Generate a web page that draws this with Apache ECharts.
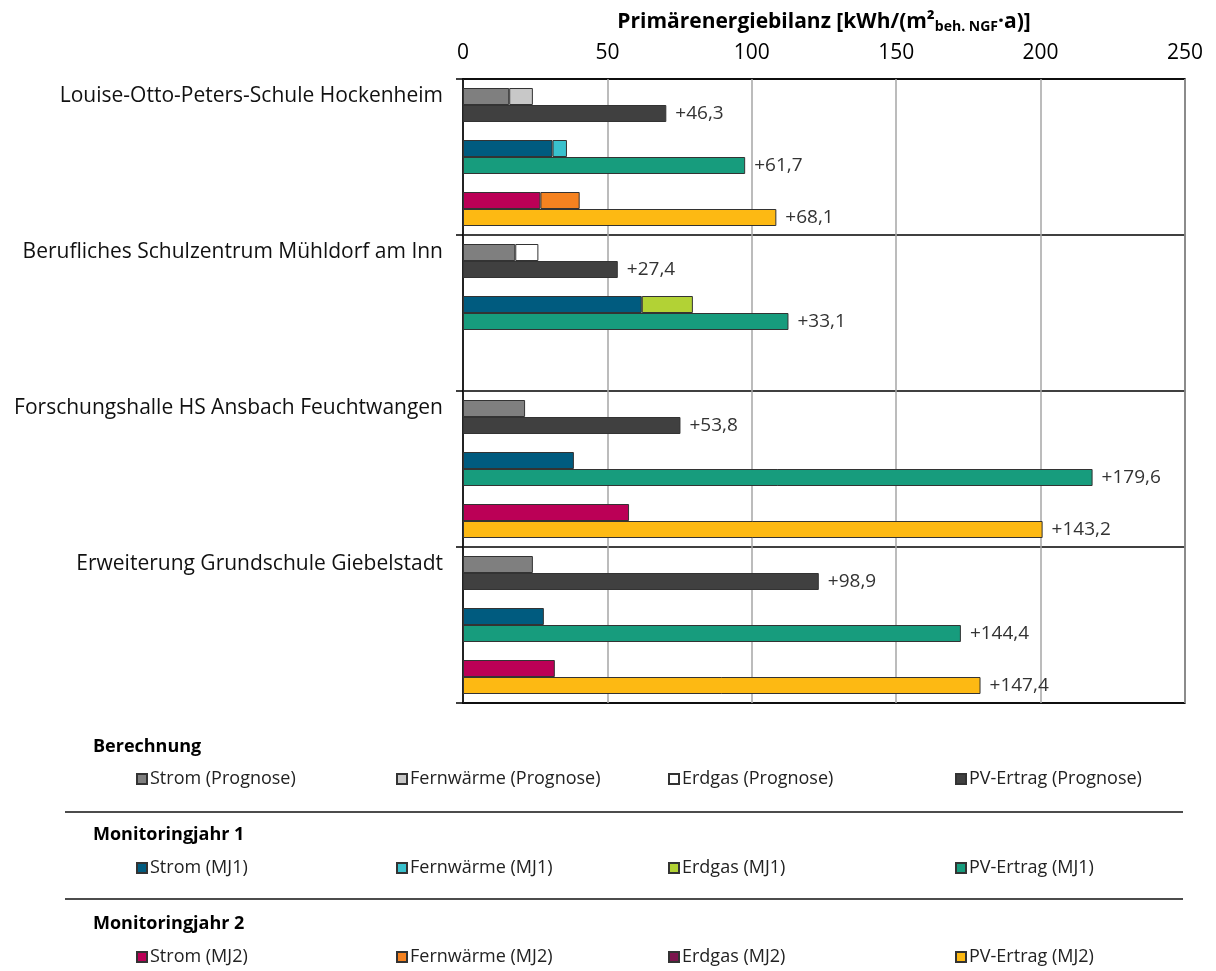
<!DOCTYPE html>
<html>
<head>
<meta charset="utf-8">
<script src="https://cdn.jsdelivr.net/npm/echarts@6/dist/echarts.min.js"></script>
<style>
html,body{margin:0;padding:0;background:#fff;}
#chart{width:1216px;height:971px;}
</style>
</head>
<body>
<div id="chart"></div>
<script>
// ---- data ----
const groups = [
  'Louise-Otto-Peters-Schule Hockenheim',
  'Berufliches Schulzentrum Mühldorf am Inn',
  'Forschungshalle HS Ansbach Feuchtwangen',
  'Erweiterung Grundschule Giebelstadt'
];
const xTicks = [0, 50, 100, 150, 200, 250];

// Berechnung (Prognose)
const stromPrognose      = [16.0, 18.1, 21.5, 24.2];
const fernwaermePrognose = [8.2, null, null, null];
const erdgasPrognose     = [null, 8.0, null, null];
const pvPrognose         = [70.4, 53.6, 75.3, 123.2];
const bilanzPrognose     = ['+46,3', '+27,4', '+53,8', '+98,9'];

// Monitoringjahr 1
const stromMJ1      = [31.0, 61.9, 38.4, 28.0];
const fernwaermeMJ1 = [5.0, null, null, null];
const erdgasMJ1     = [null, 17.7, null, null];
const pvMJ1         = [97.7, 112.7, 218.0, 172.4];
const bilanzMJ1     = ['+61,7', '+33,1', '+179,6', '+144,4'];

// Monitoringjahr 2
const stromMJ2      = [26.8, null, 57.5, 31.8];
const fernwaermeMJ2 = [13.6, null, null, null];
const erdgasMJ2     = [null, null, null, null];
const pvMJ2         = [108.5, null, 200.7, 179.2];
const bilanzMJ2     = ['+68,1', null, '+143,2', '+147,4'];

// ---- build ----
const FONT = '"Open Sans", "Noto Sans", sans-serif';
const nYears = 3;
const rows = [];
groups.forEach((g, gi) => { for (let y = 0; y < nYears; y++) rows.push(gi + '-' + y); });

function rowData(vals, yearIdx) {
  const out = new Array(rows.length).fill(null);
  vals.forEach((v, gi) => { out[gi * nYears + yearIdx] = v; });
  return out;
}

const yearDefs = [
  {
    key: 'Prognose', header: 'Berechnung',
    items: [
      {name: 'Strom (Prognose)', vals: stromPrognose, color: '#7f7f7f', stack: 'cons'},
      {name: 'Fernwärme (Prognose)', vals: fernwaermePrognose, color: '#c8c8c8', stack: 'cons'},
      {name: 'Erdgas (Prognose)', vals: erdgasPrognose, color: '#ffffff', stack: 'cons'},
      {name: 'PV-Ertrag (Prognose)', vals: pvPrognose, color: '#404040', stack: 'pv', labels: bilanzPrognose}
    ]
  },
  {
    key: 'MJ1', header: 'Monitoringjahr 1',
    items: [
      {name: 'Strom (MJ1)', vals: stromMJ1, color: '#005b7f', stack: 'cons'},
      {name: 'Fernwärme (MJ1)', vals: fernwaermeMJ1, color: '#39c1cd', stack: 'cons'},
      {name: 'Erdgas (MJ1)', vals: erdgasMJ1, color: '#b2d235', stack: 'cons'},
      {name: 'PV-Ertrag (MJ1)', vals: pvMJ1, color: '#179c7d', stack: 'pv', labels: bilanzMJ1}
    ]
  },
  {
    key: 'MJ2', header: 'Monitoringjahr 2',
    items: [
      {name: 'Strom (MJ2)', vals: stromMJ2, color: '#bb0056', stack: 'cons'},
      {name: 'Fernwärme (MJ2)', vals: fernwaermeMJ2, color: '#f58220', stack: 'cons'},
      {name: 'Erdgas (MJ2)', vals: erdgasMJ2, color: '#7c154d', stack: 'cons'},
      {name: 'PV-Ertrag (MJ2)', vals: pvMJ2, color: '#fdb913', stack: 'pv', labels: bilanzMJ2}
    ]
  }
];

const series = [];
yearDefs.forEach((yd, yi) => {
  yd.items.forEach(it => {
    const s = {
      name: it.name,
      type: 'bar',
      stack: it.stack,
      barWidth: 17,
      barGap: '0%',
      data: rowData(it.vals, yi),
      itemStyle: {color: it.color, borderColor: '#333', borderWidth: 1},
      emphasis: {disabled: true},
      animation: false
    };
    if (it.labels) {
      const labs = it.labels;
      s.label = {
        show: true, position: 'right', distance: 9,
        fontFamily: FONT, fontSize: 19, color: '#333',
        formatter: p => labs[Math.floor(p.dataIndex / nYears)] || ''
      };
    }
    series.push(s);
  });
});

// legends: 3 rows x 4 columns
const legendCols = [136, 396, 668, 955];
const legendRowY = [770, 859, 948];
const legends = [];
yearDefs.forEach((yd, yi) => {
  yd.items.forEach((it, ci) => {
    legends.push({
      left: legendCols[ci], top: legendRowY[yi],
      data: [it.name], icon: 'rect',
      itemWidth: 10, itemHeight: 10, itemGap: 0, padding: 0,
      selectedMode: false,
      textStyle: {fontFamily: FONT, fontSize: 18, color: '#222', padding: [0, 0, 0, -2]}
    });
  });
});

const headerY = [750, 838, 927];
const graphics = [];
yearDefs.forEach((yd, yi) => {
  graphics.push({
    type: 'text', left: 93, top: headerY[yi] - 12,
    style: {text: yd.header, font: 'bold 18px ' + FONT, fill: '#000'}
  });
});
[812, 899].forEach(y => {
  graphics.push({type: 'line', shape: {x1: 65, y1: y, x2: 1183, y2: y},
    style: {stroke: '#111', lineWidth: 1.5}});
});

const chart = echarts.init(document.getElementById('chart'));
chart.setOption({
  backgroundColor: '#fff',
  animation: false,
  grid: {left: 463, right: 31, top: 79, bottom: 268, show: true,
    containLabel: false, outerBoundsMode: 'none',
    borderColor: '#000', borderWidth: 1.5, backgroundColor: 'transparent'},
  xAxis: {
    type: 'value', position: 'top', min: xTicks[0], max: xTicks[xTicks.length - 1], interval: 50,
    name: 'Primärenergiebilanz [kWh/(m²{sub|beh. NGF}·a)]',
    nameLocation: 'middle', nameGap: 45,
    nameTextStyle: {fontFamily: FONT, fontSize: 21, fontWeight: 'bold', color: '#000',
      rich: {sub: {fontFamily: FONT, fontSize: 14, fontWeight: 'bold', color: '#000', verticalAlign: 'bottom', padding: [9, 0, 0, 0]}}},
    axisLine: {show: false}, axisTick: {show: false},
    axisLabel: {fontFamily: FONT, fontSize: 21, color: '#000', margin: 15},
    splitLine: {show: true, lineStyle: {color: '#a6a6a6', width: 1.5}}
  },
  yAxis: {
    type: 'category', inverse: true, data: rows,
    axisLine: {show: true, lineStyle: {color: '#000', width: 1.5}},
    axisTick: {show: true, length: 7, interval: (i) => i % nYears === 0, lineStyle: {color: '#000', width: 1.5}},
    splitLine: {show: true, interval: (i) => i % nYears === 0, lineStyle: {color: '#000', width: 1.5}},
    axisLabel: {
      interval: 0, margin: 20, fontFamily: FONT, fontSize: 21, color: '#111',
      verticalAlign: 'bottom', lineHeight: 18,
      formatter: (v, i) => (i % nYears === 0 ? groups[i / nYears] : '')
    }
  },
  legend: legends,
  graphic: graphics,
  series: series
});
</script>
</body>
</html>
